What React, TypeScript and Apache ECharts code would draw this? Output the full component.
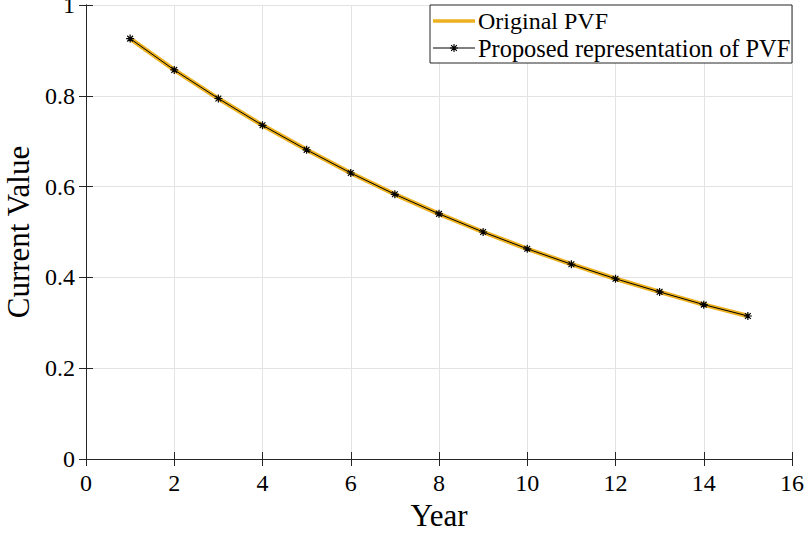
import React, { useEffect, useRef } from "react";
import * as echarts from "echarts";

const years = [1, 2, 3, 4, 5, 6, 7, 8, 9, 10, 11, 12, 13, 14, 15];
const originalPVF = [0.926, 0.857, 0.794, 0.735, 0.681, 0.630, 0.583, 0.540, 0.500, 0.463, 0.429, 0.397, 0.368, 0.340, 0.315];
const proposedPVF = [0.926, 0.857, 0.794, 0.735, 0.681, 0.630, 0.583, 0.540, 0.500, 0.463, 0.429, 0.397, 0.368, 0.340, 0.315];
const legendNames = ["Original PVF", "Proposed representation of PVF"];

const FONT = "Liberation Serif";
const AST_D = "M0,-5L0,5M-5,0L5,0M-3.6,-3.6L3.6,3.6M-3.6,3.6L3.6,-3.6";
const ASTERISK = "path://" + AST_D;

let registered = false;

export default function App() {
  const ref = useRef<HTMLDivElement>(null);
  useEffect(() => {
    if (!ref.current) return;
    if (!registered) {
      echarts.graphic.registerShape("asterisk", echarts.graphic.extendPath(AST_D, {}));
      registered = true;
    }
    const chart = echarts.init(ref.current, undefined, { renderer: "svg" });
    const axisLine = { show: true, lineStyle: { color: "#262626", width: 1 } };
    const tick = { show: true, inside: true, length: 7, lineStyle: { color: "#262626" } };
    const richLabel = { t: { fontFamily: FONT, fontSize: 24, color: "#000" } };
    const L = { x0: 430, y0: 5, x1: 792, y1: 63 };
    chart.setOption({
      animation: false,
      backgroundColor: "#fff",
      textStyle: { fontFamily: FONT },
      grid: { left: 86, right: 17, top: 5, bottom: 78, outerBoundsMode: "none", containLabel: false },
      xAxis: [
        {
          type: "value",
          min: 0,
          max: 16,
          interval: 2,
          name: "Year",
          nameLocation: "middle",
          nameGap: 40,
          nameTextStyle: { fontFamily: FONT, fontSize: 31, color: "#000" },
          axisLine,
          axisTick: tick,
          axisLabel: {
            fontFamily: FONT,
            fontSize: 24,
            color: "#000",
            margin: 12,
            formatter: (v: number) => "{t|" + v + "}",
            rich: richLabel,
          },
          splitLine: { show: true, lineStyle: { color: "#e3e3e3", width: 1 } },
        },
        {
          type: "value",
          position: "top",
          min: 0,
          max: 16,
          interval: 2,
          axisLine,
          axisTick: tick,
          axisLabel: { show: false },
          splitLine: { show: false },
        },
      ],
      yAxis: [
        {
          type: "value",
          min: 0,
          max: 1,
          interval: 0.2,
          name: "Current Value",
          nameLocation: "middle",
          nameGap: 49,
          nameTextStyle: { fontFamily: FONT, fontSize: 31, color: "#000" },
          axisLine,
          axisTick: tick,
          axisLabel: {
            fontFamily: FONT,
            fontSize: 24,
            color: "#000",
            margin: 11,
            formatter: (v: number) => "{t|" + v + "}",
            rich: richLabel,
          },
          splitLine: { show: true, lineStyle: { color: "#e3e3e3", width: 1 } },
        },
        {
          type: "value",
          position: "right",
          min: 0,
          max: 1,
          interval: 0.2,
          axisLine,
          axisTick: tick,
          axisLabel: { show: false },
          splitLine: { show: false },
        },
      ],
      graphic: [
        {
          type: "rect",
          shape: { x: L.x0, y: L.y0, width: L.x1 - L.x0, height: L.y1 - L.y0 },
          style: { fill: "#fff", stroke: "#262626", lineWidth: 1 },
          z: 100,
        },
        {
          type: "line",
          shape: { x1: 433, y1: 21, x2: 475, y2: 21 },
          style: { stroke: "#EDB120", lineWidth: 3.5 },
          z: 101,
        },
        {
          type: "text",
          x: 478,
          y: 21,
          style: { text: legendNames[0], fontFamily: FONT, fontSize: 24, fill: "#000", verticalAlign: "middle" },
          z: 101,
        },
        {
          type: "line",
          shape: { x1: 433, y1: 48, x2: 475, y2: 48 },
          style: { stroke: "#000", lineWidth: 1 },
          z: 101,
        },
        {
          type: "asterisk",
          x: 454,
          y: 48,
          scaleX: 0.8,
          scaleY: 0.8,
          style: { stroke: "#000", fill: "none", lineWidth: 1.4 },
          z: 102,
        },
        {
          type: "text",
          x: 478,
          y: 48,
          style: { text: legendNames[1], fontFamily: FONT, fontSize: 24.4, fill: "#000", verticalAlign: "middle" },
          z: 101,
        },
      ],
      series: [
        {
          name: legendNames[0],
          type: "line",
          data: years.map((y, i) => [y, originalPVF[i]]),
          showSymbol: false,
          symbol: "none",
          lineStyle: { color: "#EDB120", width: 4.5 },
          itemStyle: { color: "#EDB120" },
          z: 2,
        },
        {
          name: legendNames[1],
          type: "line",
          data: years.map((y, i) => [y, proposedPVF[i]]),
          symbol: ASTERISK,
          symbolSize: 8,
          lineStyle: { color: "#000", width: 1 },
          itemStyle: { color: "#000", borderColor: "#000", borderWidth: 1.2 },
          z: 3,
        },
      ],
    });
    return () => chart.dispose();
  }, []);
  return <div ref={ref} style={{ width: 809, height: 537, position: "absolute", left: 0, top: 0 }} />;
}
